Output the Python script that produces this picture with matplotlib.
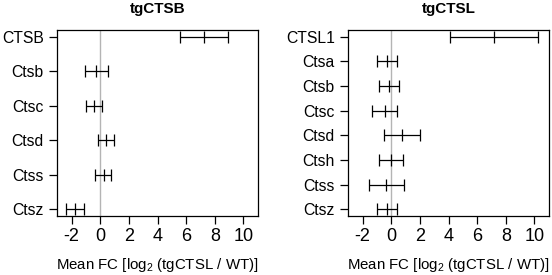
import numpy as np
import matplotlib
matplotlib.use("Agg")
import matplotlib.pyplot as plt

plt.rcParams['font.family'] = ['Liberation Sans', 'DejaVu Sans']

# tgCTSB panel
genes_b = ["CTSB", "Ctsb", "Ctsc", "Ctsd", "Ctss", "Ctsz"]
mean_b = [7.27, -0.28, -0.47, 0.37, 0.23, -1.77]
low_b = [5.59, -1.05, -1.0, -0.19, -0.35, -2.4]
high_b = [8.95, 0.54, 0.14, 0.96, 0.77, -1.12]

# tgCTSL panel
genes_l = ["CTSL1", "Ctsa", "Ctsb", "Ctsc", "Ctsd", "Ctsh", "Ctss", "Ctsz"]
mean_l = [7.18, -0.30, -0.16, -0.47, 0.72, -0.02, -0.35, -0.30]
low_l = [4.13, -1.0, -0.84, -1.33, -0.54, -0.86, -1.56, -1.0]
high_l = [10.26, 0.40, 0.51, 0.40, 1.98, 0.79, 0.86, 0.40]

xticks = [-2, 0, 2, 4, 6, 8, 10]
xlab = r'Mean FC [log$_\mathregular{2}$ (tgCTSL / WT)]'

fig = plt.figure(figsize=(5.52, 2.75), dpi=100)
ax1 = fig.add_axes([57 / 552, 1 - 216 / 275, 201 / 552, 186 / 275])
ax2 = fig.add_axes([348 / 552, 1 - 216 / 275, 201 / 552, 186 / 275])


def panel(ax, title, genes, mean, low, high):
    n = len(genes)
    y = np.arange(n)[::-1] + 1
    ax.axvline(0, color="#b4b4b4", lw=1.0, zorder=1)
    mean = np.array(mean)
    err = [mean - np.array(low), np.array(high) - mean]
    ax.errorbar(mean, y, xerr=err, fmt="none", ecolor="black", elinewidth=0.9,
                capsize=4, capthick=0.9, zorder=3)
    ax.plot(mean, y, ls="none", marker="|", ms=8, mew=0.9, color="black", zorder=4)
    ext = 0.04 * (n - 1)
    ax.set_ylim(1 - ext, n + ext)
    ax.set_xlim(-3.02, 11.02)
    ax.set_yticks(y)
    ax.set_yticklabels(genes)
    ax.set_xticks(xticks)
    ax.set_xticklabels([str(t) for t in xticks])
    ax.tick_params(axis="both", length=5.5, width=0.9, pad=4)
    ax.tick_params(axis="y", labelsize=11.3)
    ax.tick_params(axis="x", labelsize=13, pad=3)
    for s in ax.spines.values():
        s.set_linewidth(0.9)
    ax.set_title(title, fontsize=11, fontweight="bold", pad=12)
    ax.set_xlabel(xlab, fontsize=10.8, labelpad=8)


panel(ax1, "tgCTSB", genes_b, mean_b, low_b, high_b)
panel(ax2, "tgCTSL", genes_l, mean_l, low_l, high_l)

fig.savefig("out.png", dpi=100)
